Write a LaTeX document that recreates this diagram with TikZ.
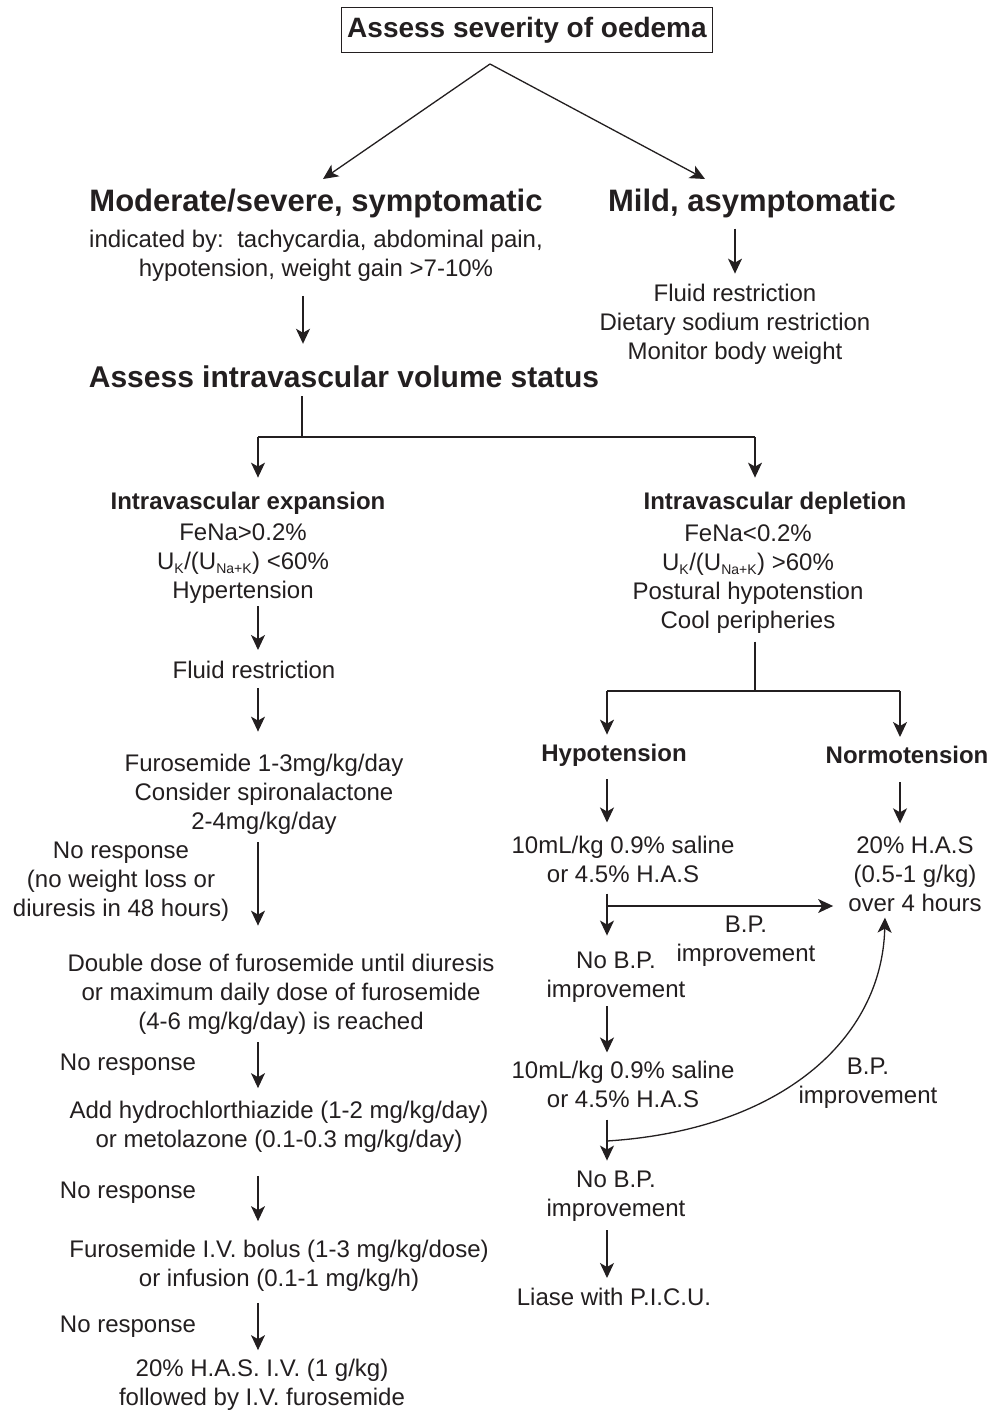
\documentclass[tikz,border=0pt]{standalone}
\usepackage{fontspec}
\setmainfont{Liberation Sans}
\usetikzlibrary{arrows.meta,calc}
\definecolor{ink}{RGB}{35,31,32}
\newcommand\fnorm{\fontsize{24}{29}\selectfont}
\newcommand\fbig{\fontsize{31}{36}\selectfont\bfseries}
\newcommand\fass{\fontsize{30}{36}\selectfont\bfseries}
\newcommand\fsub{\fontsize{24}{29}\selectfont\bfseries}
\newcommand\ftop{\fontsize{28}{32}\selectfont\bfseries}
\newcommand\sbs[1]{\textsubscript{\fontsize{14}{14}\selectfont #1}}
\begin{document}
\begin{tikzpicture}[x=1pt,y=-1pt,
  every node/.style={inner sep=0pt, text=ink, font=\fnorm, align=center},
  ln/.style={draw=ink, line width=1.3pt},
  arr/.style={draw=ink, line width=1.3pt, -{Stealth[length=15pt,width=14pt,inset=4pt]}},
  topbox/.style={draw=ink, line width=1.8pt, minimum width=371pt, minimum height=45pt, font=\ftop},
  bighead/.style={font=\fbig},
  subhead/.style={font=\fsub}]
\useasboundingbox (0,0) rectangle (1003,1410);
\fill[white] (0,0) rectangle (1003,1410);

% ---- top ----
\node[topbox] (top) at (527,30) {Assess severity of oedema};
\node[bighead] (mod) at (316,203) {Moderate/severe, symptomatic};
\node (modsub) at (316,256) {indicated by:\ \ tachycardia, abdominal pain,\\hypotension, weight gain >7-10\%};
\node[bighead] (mild) at (752,203) {Mild, asymptomatic};
\node (mildsub) at (735,324) {Fluid restriction\\Dietary sodium restriction\\Monitor body weight};
\node[font=\fass] (assess) at (344,377) {Assess intravascular volume status};

\coordinate (split) at (490,64);
\coordinate (e1) at (323,179);
\coordinate (e2) at (705,179);
\draw[arr] (split) -- (e1);
\draw[arr] (split) -- (e2);
\draw[arr, shorten <=11pt, shorten >=10pt] (mild.south -| mildsub.north) -- (mildsub.north);
\draw[arr, shorten <=14pt, shorten >=22pt] ([xshift=-13pt]modsub.south) -- ([xshift=-41pt]assess.north);

% ---- first split ----
\coordinate (B) at (302,437);
\coordinate (L) at (258,437);
\coordinate (M) at (755,437);
\draw[ln, shorten <=8pt] (assess.south -| B) -- (B);
\draw[ln] (L) -- (M);

\node[subhead] (exp) at (248,503) {Intravascular expansion};
\node (expsub) at (243,564) {FeNa>0.2\%\\U\sbs{K}/(U\sbs{Na+K}) <60\%\\Hypertension};
\node[subhead] (dep) at (775,503) {Intravascular depletion};
\node (depsub) at (748,579) {FeNa<0.2\%\\U\sbs{K}/(U\sbs{Na+K}) >60\%\\Postural hypotenstion\\Cool peripheries};

\draw[arr, shorten >=14pt] (L) -- (L |- exp.north);
\draw[arr, shorten >=14pt] (M) -- (M |- dep.north);

% ---- left column ----
\node (fr1) at (254,670) {Fluid restriction};
\node (furo) at (264,794) {Furosemide 1-3mg/kg/day\\Consider spironalactone\\2-4mg/kg/day};
\node (nr1) at (121,882) {No response\\(no weight loss or\\diuresis in 48 hours)};
\node (dbl) at (281,994) {Double dose of furosemide until diuresis\\or maximum daily dose of furosemide\\(4-6 mg/kg/day) is reached};
\node (nr2) at (128,1065) {No response};
\node (add) at (279,1127) {Add hydrochlorthiazide (1-2 mg/kg/day)\\or metolazone (0.1-0.3 mg/kg/day)};
\node (nr3) at (128,1193) {No response};
\node (ivb) at (279,1266) {Furosemide I.V. bolus (1-3 mg/kg/dose)\\or infusion (0.1-1 mg/kg/h)};
\node (nr4) at (128,1327) {No response};
\node (has) at (262,1385) {20\% H.A.S. I.V. (1 g/kg)\\followed by I.V. furosemide};

\draw[arr, shorten <=2pt, shorten >=11pt] (expsub.south -| L) -- (fr1.north -| L);
\draw[arr, shorten <=9pt, shorten >=22pt] (fr1.south -| L) -- (furo.north -| L);
\draw[arr, shorten <=8pt, shorten >=28pt] (furo.south -| L) -- (dbl.north -| L);
\draw[arr, shorten <=8pt, shorten >=13pt] (dbl.south -| L) -- (add.north -| L);
\draw[arr, shorten <=23pt, shorten >=19pt] (add.south -| L) -- (ivb.north -| L);
\draw[arr, shorten <=11pt, shorten >=9pt] (ivb.south -| L) -- (has.north -| L);

% ---- right column ----
\coordinate (S) at (755,691);
\coordinate (R1) at (607,691);
\coordinate (R2) at (900,691);
\draw[ln, shorten <=8pt] (depsub.south -| S) -- (S);
\draw[ln] (R1) -- (R2);

\node[subhead] (hypo) at (614,755) {Hypotension};
\node[subhead] (normo) at (907,755) {Normotension};
\draw[arr, shorten >=9pt] (R1) -- (R1 |- hypo.north);
\draw[arr, shorten >=9pt] (R2) -- (R2 |- normo.north);

\node (sal1) at (623,859) {10mL/kg 0.9\% saline\\or 4.5\% H.A.S};
\node (has2) at (915,874) {20\% H.A.S\\(0.5-1 g/kg)\\over 4 hours};
\node (nobp1) at (616,977) {No B.P.\\improvement};
\node (bp1) at (746,941) {B.P.\\improvement};
\node (sal2) at (623,1084) {10mL/kg 0.9\% saline\\or 4.5\% H.A.S};
\node (bp2) at (868,1083) {B.P.\\improvement};
\node (nobp2) at (616,1196) {No B.P.\\improvement};
\node (liase) at (614,1297) {Liase with P.I.C.U.};

\draw[arr, shorten <=13pt, shorten >=13pt] (hypo.south -| R1) -- (sal1.north -| R1);
\draw[arr, shorten <=18pt, shorten >=13pt] (normo.south -| R2) -- (has2.north -| R2);
\draw[arr, shorten <=11pt, shorten >=16pt] (sal1.south -| R1) -- (nobp1.north -| R1);
\draw[arr, shorten <=4pt, shorten >=8pt] (nobp1.south -| R1) -- (sal2.north -| R1);
\draw[arr, shorten <=12pt, shorten >=10pt] (sal2.south -| R1) -- (nobp2.north -| R1);
\draw[arr, shorten <=9pt, shorten >=10pt] (nobp2.south -| R1) -- (liase.north -| R1);

\coordinate (j1) at (607,906);
\coordinate (j2) at (607,1141);
\draw[arr, shorten >=15pt] (j1) -- (j1 -| has2.west);
\draw[arr] (j2) .. controls (780,1130) and (882,1040) .. ([xshift=-30pt,yshift=-6pt]has2.south);
\end{tikzpicture}
\end{document}
